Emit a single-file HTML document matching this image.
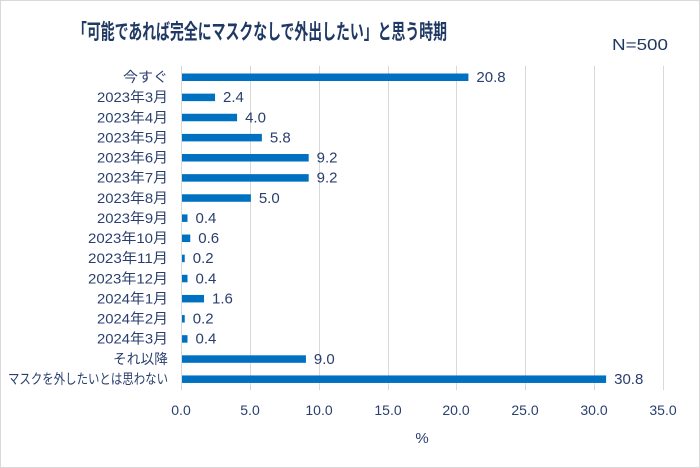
<!DOCTYPE html>
<html><head><meta charset="utf-8"><style>
body{margin:0;background:#fff}
svg{display:block;font-family:"Liberation Sans","Noto Sans CJK JP",sans-serif}
</style></head><body>
<svg width="700" height="468" viewBox="0 0 700 468">
<rect x="0.5" y="0.5" width="699" height="467" fill="#fff" stroke="#d9d9d9"/>
<text x="73" y="39" font-size="21" font-weight="bold" fill="#1f3864" textLength="374" lengthAdjust="spacingAndGlyphs">「可能であれば完全にマスクなしで外出したい」と思う時期</text>
<text x="612" y="50" font-size="16" fill="#1f3864" textLength="56" lengthAdjust="spacingAndGlyphs">N=500</text>
<g stroke="#d9d9d9" stroke-width="1">
<line x1="181.5" y1="66" x2="181.5" y2="390"/>
<line x1="250.5" y1="66" x2="250.5" y2="390"/>
<line x1="319.5" y1="66" x2="319.5" y2="390"/>
<line x1="388.5" y1="66" x2="388.5" y2="390"/>
<line x1="456.5" y1="66" x2="456.5" y2="390"/>
<line x1="525.5" y1="66" x2="525.5" y2="390"/>
<line x1="594.5" y1="66" x2="594.5" y2="390"/>
<line x1="663.5" y1="66" x2="663.5" y2="390"/>
</g>
<g id="bars" fill="#0070c0"></g>
<g font-size="13" fill="#2a3f6e" id="lab"></g>
<g font-size="14" fill="#2a3f6e" text-anchor="middle">
<text x="181" y="415">0.0</text><text x="250" y="415">5.0</text><text x="319" y="415">10.0</text><text x="388" y="415">15.0</text><text x="456" y="415">20.0</text><text x="525" y="415">25.0</text><text x="594" y="415">30.0</text><text x="663" y="415">35.0</text>
<text x="422" y="443" font-size="15">%</text>
</g>
</svg>
<script>
var d=[["今すぐ",20.8,45],["2023年3月",2.4,71],["2023年4月",4.0,71],["2023年5月",5.8,71],["2023年6月",9.2,71],["2023年7月",9.2,71],["2023年8月",5.0,71],["2023年9月",0.4,71],["2023年10月",0.6,80],["2023年11月",0.2,80],["2023年12月",0.4,80],["2024年1月",1.6,71],["2024年2月",0.2,71],["2024年3月",0.4,71],["それ以降",9.0,55],["マスクを外したいとは思わない",30.8,160]];
var ns="http://www.w3.org/2000/svg",b=document.getElementById("bars"),l=document.getElementById("lab");
d.forEach(function(r,i){var y=77+i*20.13,w=r[1]*13.77;
var e=document.createElementNS(ns,"rect");e.setAttribute("x",182);e.setAttribute("y",y-3.5);e.setAttribute("width",w);e.setAttribute("height",7.5);b.appendChild(e);
var t=document.createElementNS(ns,"text");t.setAttribute("x",168-r[2]);t.setAttribute("y",y+5);t.setAttribute("font-size","14");t.setAttribute("textLength",r[2]);t.setAttribute("lengthAdjust","spacingAndGlyphs");t.textContent=r[0];l.appendChild(t);
var v=document.createElementNS(ns,"text");v.setAttribute("x",182+w+8);v.setAttribute("y",y+5);v.textContent=r[1].toFixed(1);v.setAttribute("font-size","15");l.appendChild(v);});
</script>
</body></html>
